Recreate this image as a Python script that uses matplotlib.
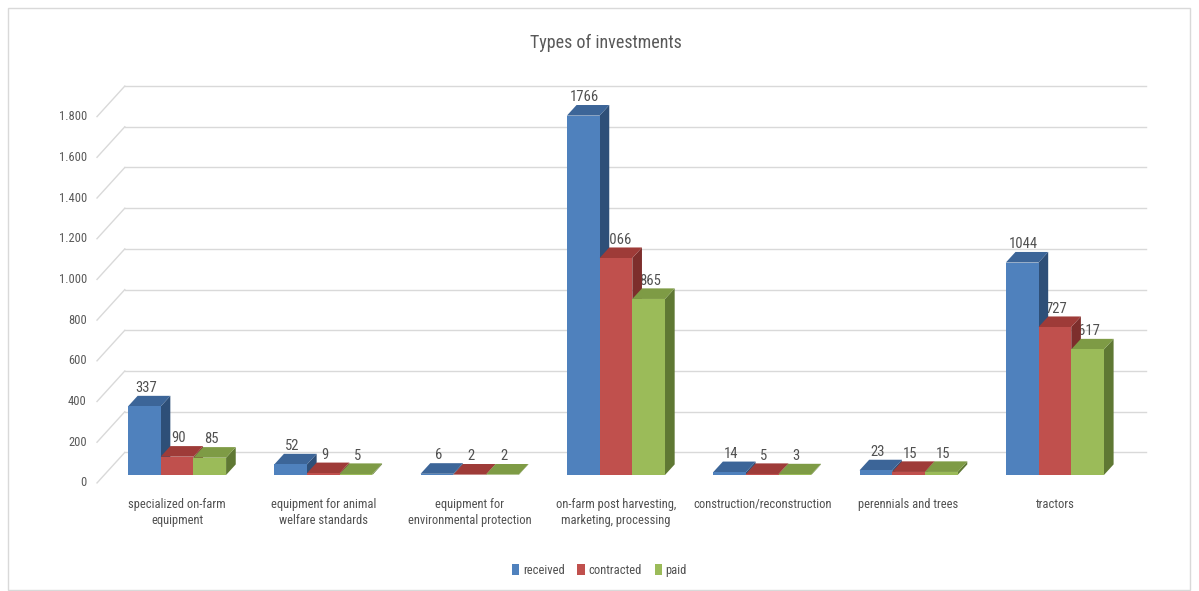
import matplotlib.pyplot as plt
from matplotlib import font_manager
from matplotlib.patches import Polygon, Patch, Rectangle

categories = ['specialized on-farm\nequipment', 'equipment for animal\nwelfare standards',
              'equipment for\nenvironmental protection', 'on-farm post harvesting,\nmarketing, processing',
              'construction/reconstruction', 'perennials and trees', 'tractors']
series = ['received', 'contracted', 'paid']
received = [337, 52, 6, 1766, 14, 23, 1044]
contracted = [90, 9, 2, 1066, 5, 15, 727]
paid = [85, 5, 2, 865, 3, 15, 617]
yticks = [0, 200, 400, 600, 800, 1000, 1200, 1400, 1600, 1800]

front = ['#4F81BD', '#C0504D', '#9BBB59']
top_c = ['#3C6598', '#9E3B38', '#7E9B45']
side_c = ['#2E4F78', '#7D2E2C', '#5F7833']

# pick a narrow font if there is one
narrow = None
for name in ['Roboto Condensed', 'Liberation Sans Narrow', 'Open Sans Condensed', 'DejaVu Sans Condensed']:
    try:
        font_manager.findfont(name, fallback_to_default=False)
        narrow = name
        break
    except Exception:
        pass
if narrow:
    plt.rcParams['font.family'] = [narrow, 'DejaVu Sans']
    scale = 1.0
else:
    plt.rcParams['font.family'] = ['DejaVu Sans']
    scale = 0.85

fig = plt.figure(figsize=(11.99, 5.91), dpi=100)
ax = fig.add_axes([0, 0, 1, 1])
ax.set_xlim(-1.21, 6.985)
ax.set_ylim(-531, 2373)
ax.axis('off')

# pseudo 3d geometry (category units / value units)
w = 0.2235
dx, dy = 0.066, 52          # bar depth
wdx, wdy = 0.19, 150        # floor depth
base = 39                   # bars sit a little back on the floor
x_left = -0.547
x_right = 6.62

# walls / gridlines
for t in yticks:
    ax.plot([x_left, x_left + wdx], [t, t + wdy], color='#D9D9D9', lw=1, zorder=1)
    ax.plot([x_left + wdx, x_right], [t + wdy, t + wdy], color='#D9D9D9', lw=1, zorder=1)
    ax.text(x_left - 0.07, t, f'{t:,}'.replace(',', '.'), ha='right', va='center',
            fontsize=9 * scale, color='#595959')

data = [received, contracted, paid]
z = 3
for i in range(len(categories)):
    for k in range(3):
        v = data[k][i]
        x0 = i + (k - 1.5) * w
        x1 = x0 + w
        y1 = base + v
        side = Polygon([(x1, base), (x1 + dx, base + dy), (x1 + dx, y1 + dy), (x1, y1)],
                       closed=True, facecolor=side_c[k], edgecolor='none', zorder=z)
        top = Polygon([(x0, y1), (x0 + dx, y1 + dy), (x1 + dx, y1 + dy), (x1, y1)],
                      closed=True, facecolor=top_c[k], edgecolor='none', zorder=z)
        ax.add_patch(side)
        ax.add_patch(top)
        ax.bar(x0 + w / 2, v, w, bottom=base, color=front[k], zorder=z + 0.5, linewidth=0)
        ax.text(x0 + w / 2 + 0.01, y1 + dy + 4, str(v), ha='center', va='bottom',
                fontsize=10.5 * scale, color='#505050', zorder=2)
        z += 1

for i, c in enumerate(categories):
    ax.text(i, -72, c, ha='center', va='top', fontsize=9 * scale, color='#505050',
            linespacing=1.3)

fig.text(0.505, 0.927, 'Types of investments', ha='center', va='center',
         fontsize=13 * scale, color='#595959')

handles = [Patch(facecolor=front[k], label=series[k]) for k in range(3)]
fig.legend(handles=handles, loc='center', bbox_to_anchor=(0.5, 0.035), ncol=3,
           frameon=False, fontsize=9 * scale, handlelength=0.6, handleheight=0.9,
           handletextpad=0.3, columnspacing=1.0, labelcolor='#505050')

fig.add_artist(Rectangle((8 / 1199, 0.002), 1182 / 1199, 1 - 8 / 591 - 0.002,
                         transform=fig.transFigure, fill=False,
                         edgecolor='#D9D9D9', lw=1))

fig.savefig('out.png', dpi=100)
